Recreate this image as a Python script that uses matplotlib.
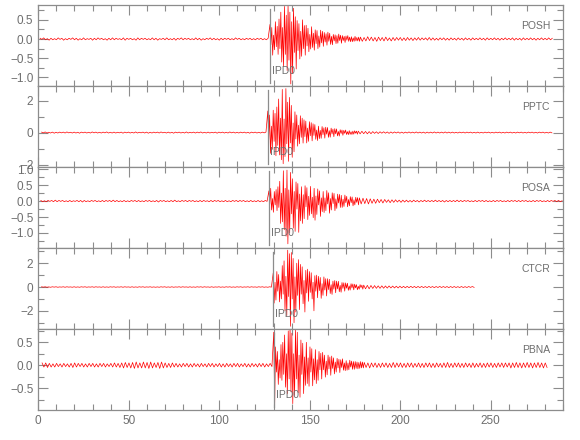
import matplotlib.pyplot as plt
import matplotlib.transforms as mtransforms
import numpy as np
from matplotlib.ticker import MultipleLocator

plt.rcParams['font.family'] = ['Liberation Sans', 'DejaVu Sans']

stations = ['POSH', 'PPTC', 'POSA', 'CTCR', 'PBNA']
pick_label = 'IPD0'
pick_times = [128.0, 126.8, 127.4, 129.8, 130.1]   # onset, s

# each trace: noise (1 s steps up to the pick), event (0.5 s steps from the pick), coda (1 s steps)
posh_noise = [.02, -.01, .03, -.02, .01, -.03, .02, -.02, .01, -.02,
              .03, -.01, .02, -.03, .01, -.02, .02, -.01, .03, -.02,
              .02, -.03, .01, -.02, .03, -.02, .01, -.01, .02, -.03,
              .02, -.02, .03, -.01, .02, -.02, .01, -.03, .02, -.02,
              .03, -.02, .02, -.01, .01, -.02, .03, -.03, .02, -.01,
              .02, -.02, .01, -.03, .03, -.02, .02, -.01, .02, -.02,
              .01, -.02, .03, -.02, .02, -.03, .01, -.01, .02, -.02,
              .03, -.02, .01, -.02, .02, -.03, .02, -.01, .03, -.02,
              .02, -.01, .02, -.02, .01, -.02, .03, -.02, .02, -.03,
              .01, -.02, .02, -.01, .03, -.02, .02, -.02, .01, -.03,
              .02, -.02, .02, -.01, .02, -.02, .01, -.02, .03, -.01,
              .02, -.02, .01, -.02, .02, -.01, .02, -.02, .01, -.02,
              .02, -.01, .02, -.02, .01, -.02, .02]
posh_event = [.38, -.15, .30, -.42, .10, -.28, .45, -.20, .33, -.40,
              .52, -.25, .70, -.60, .30, -.72, .85, -.40, .62, -.82,
              .88, -.55, .70, -1.17, .45, -.90, .80, -.35, .58, -.78,
              .48, -.30, .40, -.52, .20, -.45, .50, -.25, .35, -.42,
              .36, -.18, .28, -.33, .12, -.26, .32, -.22, .15, -.29,
              .24, -.12, .22, -.25, .08, -.21, .23, -.10, .20, -.19,
              .17, -.08, .14, -.16, .18, -.06, .15, -.14, .07, -.15,
              .12, -.05, .11, -.12, .09, -.11, .13, -.04, .10, -.11,
              .09, -.04, .07, -.09, .08, -.03, .09, -.06, .05, -.07,
              .06, -.07, .03, -.06, .07, -.05, .04, -.05, .05, -.06]
posh_coda = [.05, -.06, .04, -.05, .06, -.04, .05, -.05, .04, -.06,
             .05, -.04, .04, -.05, .05, -.04, .03, -.05, .04, -.04,
             .04, -.03, .04, -.04, .03, -.04, .04, -.03, .03, -.04,
             .03, -.03, .04, -.03, .03, -.02, .03, -.03, .04, -.03,
             .03, -.03, .02, -.03, .03, -.02, .03, -.03, .02, -.03,
             .03, -.02, .02, -.03, .03, -.02, .02, -.03, .03, -.02,
             .02, -.03, .03, -.02, .02, -.02, .03, -.02, .02, -.03,
             .03, -.02, .02, -.02, .03, -.02, .02, -.03, .02, -.02,
             .03, -.02, .02, -.02, .03, -.03, .02, -.02, .02, -.03,
             .03, -.02, .02, -.02, .03, -.02, .02, -.03, .02, -.02,
             .03, -.02, .02, -.02, .03, -.02, .02]

pptc_noise = [.03, -.02, .04, -.03, .02, -.03, .03, -.04, .02, -.03,
              .03, -.02, .03, -.03, .04, -.02, .02, -.03, .03, -.03,
              .02, -.04, .03, -.02, .03, -.03, .02, -.03, .04, -.02,
              .03, -.03, .02, -.03, .03, -.02, .04, -.03, .02, -.03,
              .03, -.03, .02, -.02, .03, -.04, .03, -.02, .03, -.03,
              .02, -.03, .04, -.03, .02, -.02, .03, -.03, .03, -.04,
              .02, -.03, .03, -.02, .03, -.03, .04, -.02, .02, -.03,
              .03, -.03, .02, -.04, .03, -.02, .03, -.03, .02, -.03,
              .04, -.03, .02, -.02, .03, -.03, .03, -.02, .04, -.03,
              .02, -.03, .03, -.03, .02, -.02, .03, -.04, .03, -.02,
              .03, -.03, .02, -.03, .04, -.02, .03, -.03, .02, -.03,
              .03, -.02, .03, -.03, .02, -.04, .03, -.02, .03, -.03,
              .02, -.03, .03, -.02, .03]
pptc_event = [1.35, -.45, 1.10, -1.30, .40, -1.05, 1.40, -.55, 1.20, -1.45,
              1.60, -.80, 2.10, -1.40, .90, -1.70, 2.70, -1.95, .85, -1.50,
              2.75, -.70, 1.90, -1.80, 2.20, -.65, 1.70, -1.55, .60, -1.20,
              1.30, -.40, 1.10, -.85, .46, -.70, 1.05, -.30, .90, -.66,
              .80, -.25, .72, -.65, .28, -.55, .68, -.20, .62, -.52,
              .55, -.18, .50, -.42, .16, -.50, .40, -.38, .14, -.36,
              .38, -.13, .30, -.35, .34, -.10, .32, -.30, .12, -.29,
              .28, -.09, .22, -.26, .25, -.08, .23, -.21, .07, -.22,
              .18, -.06, .16, -.17, .14, -.05, .16, -.12, .06, -.13,
              .12, -.11, .05, -.12, .09, -.10, .11, -.04, .09, -.10]
pptc_coda = [.09, -.08, .08, -.07, .07, -.08, .06, -.07, .06, -.05,
             .05, -.06, .05, -.04, .05, -.04, .04, -.05, .04, -.04,
             .04, -.03, .04, -.04, .03, -.04, .03, -.03, .04, -.03,
             .03, -.03, .04, -.03, .03, -.03, .03, -.04, .03, -.03,
             .03, -.03, .04, -.03, .03, -.03, .03, -.03, .04, -.03,
             .03, -.03, .03, -.03, .02, -.03, .03, -.02, .03, -.03,
             .03, -.02, .03, -.03, .02, -.03, .03, -.03, .02, -.03,
             .03, -.02, .03, -.03, .02, -.03, .03, -.02, .03, -.03,
             .02, -.03, .03, -.02, .03, -.03, .02, -.03, .03, -.02,
             .03, -.03, .02, -.03, .03, -.02, .03, -.03, .02, -.03,
             .03, -.02, .03, -.03, .02, -.03, .03, -.02]

posa_noise = [.02, -.02, .01, -.02, .02, -.01, .02, -.02, .03, -.02,
              .02, -.01, .02, -.02, .01, -.02, .02, -.02, .01, -.01,
              .02, -.02, .02, -.03, .02, -.02, .01, -.02, .02, -.01,
              .02, -.02, .01, -.02, .02, -.02, .02, -.01, .02, -.02,
              .03, -.02, .02, -.02, .01, -.02, .02, -.02, .01, -.02,
              .02, -.01, .02, -.02, .02, -.02, .01, -.02, .02, -.01,
              .02, -.02, .01, -.02, .02, -.03, .02, -.01, .02, -.02,
              .01, -.02, .02, -.02, .03, -.02, .01, -.02, .02, -.01,
              .02, -.02, .02, -.01, .02, -.02, .01, -.02, .02, -.02,
              .02, -.01, .01, -.02, .02, -.02, .02, -.01, .02, -.02,
              .01, -.02, .02, -.02, .01, -.02, .02, -.01, .02, -.02,
              .02, -.01, .02, -.02, .01, -.02, .02, -.02, .01, -.02,
              .02, -.02, .01, -.02, .02, -.01]
posa_event = [.32, -.10, .40, -.28, .08, -.35, .30, -.12, .36, -.30,
              .45, -.20, .62, -.70, .25, -.65, .95, -.90, .40, -1.10,
              .97, -1.34, .35, -1.00, .90, -.40, .70, -.85, .30, -.95,
              .60, -.25, .55, -.98, .22, -.62, .45, -.70, .20, -.55,
              .48, -.18, .42, -.58, .15, -.45, .46, -.40, .12, -.52,
              .40, -.60, .16, -.42, .38, -.12, .32, -.48, .10, -.33,
              .30, -.36, .10, -.30, .33, -.09, .26, -.38, .08, -.28,
              .26, -.08, .24, -.30, .07, -.23, .22, -.06, .21, -.20,
              .18, -.20, .06, -.17, .19, -.05, .15, -.18, .05, -.15,
              .14, -.05, .13, -.15, .04, -.12, .12, -.04, .11, -.12]
posa_coda = [.10, -.09, .09, -.08, .08, -.09, .07, -.07, .06, -.07,
             .06, -.05, .05, -.06, .05, -.04, .04, -.05, .04, -.04,
             .04, -.03, .03, -.04, .03, -.03, .03, -.03, .02, -.03,
             .03, -.02, .02, -.03, .02, -.02, .03, -.02, .02, -.02,
             .02, -.02, .03, -.02, .02, -.02, .02, -.03, .02, -.02,
             .02, -.02, .02, -.02, .03, -.02, .02, -.02, .02, -.01,
             .02, -.02, .01, -.02, .02, -.02, .02, -.01, .02, -.02,
             .02, -.02, .01, -.02, .02, -.02, .02, -.01, .02, -.02,
             .01, -.02, .02, -.02, .02, -.01, .02, -.02, .02, -.02,
             .02, -.01, .02, -.02, .01, -.02, .02, -.02, .02, -.01,
             .02, -.02, .01, -.02, .02, -.02, .02, -.01, .02, -.02,
             .02, -.02, .01]

ctcr_noise = [.02, -.01, .02, -.02, .01, -.02, .02, -.01, .02, -.02,
              .01, -.01, .02, -.02, .02, -.01, .01, -.02, .02, -.02,
              .01, -.02, .02, -.01, .02, -.02, .01, -.01, .02, -.02,
              .02, -.01, .01, -.02, .02, -.02, .01, -.02, .02, -.01,
              .02, -.02, .01, -.01, .02, -.02, .02, -.01, .01, -.02,
              .02, -.02, .01, -.02, .02, -.01, .02, -.02, .01, -.01,
              .02, -.02, .01, -.02, .01, -.02, .02, -.01, .02, -.02,
              .01, -.02, .02, -.02, .01, -.01, .02, -.02, .02, -.01,
              .01, -.02, .02, -.02, .01, -.02, .02, -.01, .02, -.02,
              .02, -.01, .01, -.02, .02, -.02, .01, -.01, .02, -.02,
              .01, -.02, .02, -.01, .02, -.02, .01, -.02, .02, -.01,
              .02, -.02, .01, -.01, .02, -.02, .02, -.01, .01, -.02,
              .02, -.01, .02, -.02, .01, -.02, .02, -.01]
ctcr_event = [1.18, -1.35, .40, -1.10, 1.30, -.35, 1.05, -1.25, .50, -1.00,
              1.80, -.60, 2.20, -2.00, .90, -2.40, 3.10, -.80, 2.80, -3.30,
              2.90, -1.00, 2.40, -3.00, .85, -2.10, 2.00, -.70, 2.30, -1.90,
              1.90, -.60, 1.70, -1.40, .55, -2.10, 1.40, -.50, 1.50, -1.20,
              1.30, -.45, 1.20, -1.00, .40, -2.00, .95, -.35, 1.00, -.90,
              .90, -.30, .80, -.95, .28, -.70, .85, -.25, .70, -.75,
              .70, -.22, .65, -.55, .20, -.62, .50, -.18, .55, -.48,
              .50, -.16, .48, -.40, .14, -.44, .38, -.12, .36, -.35,
              .35, -.10, .32, -.28, .09, -.26, .28, -.08, .26, -.24,
              .24, -.07, .20, -.23, .06, -.18, .20, -.05, .16, -.18]
ctcr_coda = [.16, -.15, .14, -.15, .13, -.12, .12, -.11, .10, -.11,
             .10, -.10, .09, -.09, .09, -.08, .08, -.08, .07, -.08,
             .07, -.07, .06, -.07, .06, -.06, .06, -.05, .05, -.06,
             .05, -.05, .05, -.05, .04, -.05, .05, -.04, .04, -.05,
             .04, -.04, .05, -.04, .04, -.04, .04, -.05, .04, -.04,
             .04, -.04, .03, -.04, .04, -.04, .03, -.04, .04, -.03,
             .04, -.03]

pbna_noise = [.05, -.04, .05, -.05, .04, -.04, .03, -.04, .04, -.03,
              .03, -.04, .04, -.03, .03, -.04, .04, -.05, .05, -.04,
              .04, -.03, .04, -.04, .03, -.04, .04, -.03, .04, -.04,
              .03, -.04, .04, -.03, .04, -.04, .03, -.03, .04, -.04,
              .05, -.04, .04, -.05, .05, -.06, .06, -.05, .05, -.06,
              .06, -.07, .07, -.06, .05, -.06, .07, -.06, .06, -.07,
              .07, -.06, .05, -.05, .06, -.07, .07, -.06, .05, -.05,
              .04, -.05, .05, -.04, .04, -.04, .03, -.04, .04, -.03,
              .04, -.04, .03, -.04, .04, -.03, .03, -.04, .04, -.03,
              .03, -.04, .04, -.03, .04, -.04, .03, -.03, .04, -.04,
              .03, -.04, .04, -.03, .03, -.04, .04, -.03, .04, -.04,
              .03, -.03, .04, -.04, .03, -.04, .04, -.03, .03, -.04,
              .04, -.03, .04, -.04, .03, -.03, .04, -.03]
pbna_event = [.72, -.87, .40, -.15, .30, -.42, .12, -.28, .45, -.33,
              .50, -.20, .66, -.48, .25, -.62, .75, -.30, .84, -.58,
              .70, -.84, .25, -.66, .78, -.30, .72, -.60, .22, -.70,
              .55, -.20, .48, -.62, .18, -.44, .50, -.40, .16, -.46,
              .40, -.15, .36, -.45, .14, -.32, .34, -.40, .12, -.33,
              .30, -.10, .26, -.30, .28, -.10, .22, -.26, .09, -.21,
              .22, -.08, .18, -.22, .20, -.07, .16, -.19, .07, -.15,
              .15, -.06, .13, -.16, .12, -.05, .14, -.11, .05, -.12,
              .10, -.11, .05, -.10, .11, -.04, .09, -.09, .08, -.09,
              .08, -.07, .07, -.08, .06, -.07, .08, -.06, .07, -.06]
pbna_coda = [.06, -.05, .05, -.06, .05, -.04, .05, -.05, .04, -.05,
             .05, -.04, .05, -.05, .04, -.05, .06, -.05, .05, -.04,
             .05, -.05, .04, -.05, .05, -.04, .05, -.05, .04, -.04,
             .05, -.05, .04, -.05, .05, -.04, .05, -.05, .04, -.05,
             .05, -.04, .04, -.05, .05, -.05, .06, -.05, .04, -.05,
             .05, -.04, .05, -.05, .04, -.05, .05, -.04, .04, -.05,
             .05, -.05, .04, -.04, .05, -.05, .04, -.05, .05, -.04,
             .05, -.05, .04, -.05, .05, -.04, .05, -.05, .05, -.04,
             .05, -.06, .05, -.05, .06, -.05, .05, -.06, .05, -.05,
             .06, -.05, .05, -.06, .05, -.05, .06, -.05, .05, -.06,
             .05, -.05]

traces = [(posh_noise, posh_event, posh_coda),
          (pptc_noise, pptc_event, pptc_coda),
          (posa_noise, posa_event, posa_coda),
          (ctcr_noise, ctcr_event, ctcr_coda),
          (pbna_noise, pbna_event, pbna_coda)]

ylims = [(-1.22, 0.89), (-2.15, 2.92), (-1.47, 1.07), (-3.53, 3.28), (-0.98, 0.79)]
ysteps = [(0.5, 0.25), (2, 1), (0.5, 0.25), (2, 1), (0.5, 0.25)]


def build(noise, event, coda, t0):
    tn = t0 - 1.0 * np.arange(len(noise), 0, -1)
    te = t0 + 0.5 * np.arange(len(event))
    tc = t0 + 0.5 * len(event) + 1.0 * np.arange(len(coda))
    return np.concatenate([tn, te, tc]), np.concatenate([noise, event, coda])


gray = '#8c8c8c'
txt = '#6e6e6e'

fig, axes = plt.subplots(5, 1, sharex=True, figsize=(5.8, 4.4), dpi=100)
fig.subplots_adjust(left=0.066, right=0.971, top=0.989, bottom=0.068, hspace=0)

for ax, name, t0, tr, yl, (maj, mnr) in zip(axes, stations, pick_times, traces, ylims, ysteps):
    t, v = build(tr[0], tr[1], tr[2], t0)
    ax.plot(t, v, color='red', lw=0.5)
    ax.axvline(t0, ymin=0.04, ymax=0.95, color=gray, lw=0.9)
    trans = mtransforms.blended_transform_factory(ax.transData, ax.transAxes)
    ax.text(t0 + 1.2, 0.18, pick_label, transform=trans, ha='left', va='center',
            fontsize=7.5, color=txt)
    ax.text(0.975, 0.74, name, transform=ax.transAxes, ha='right', va='center',
            fontsize=7.5, color=txt)
    ax.set_ylim(*yl)
    ax.yaxis.set_major_locator(MultipleLocator(maj))
    ax.yaxis.set_minor_locator(MultipleLocator(mnr))
    ax.xaxis.set_major_locator(MultipleLocator(50))
    ax.xaxis.set_minor_locator(MultipleLocator(10))
    ax.tick_params(which='both', direction='in', top=True, right=True,
                   color=gray, labelcolor=txt, labelsize=8.5, width=0.8)
    ax.tick_params(which='major', length=7)
    ax.tick_params(which='minor', length=4)
    for sp in ax.spines.values():
        sp.set_color(gray)
        sp.set_linewidth(0.9)

axes[-1].set_xlim(0, 290)

fig.savefig('out.png', dpi=100)
